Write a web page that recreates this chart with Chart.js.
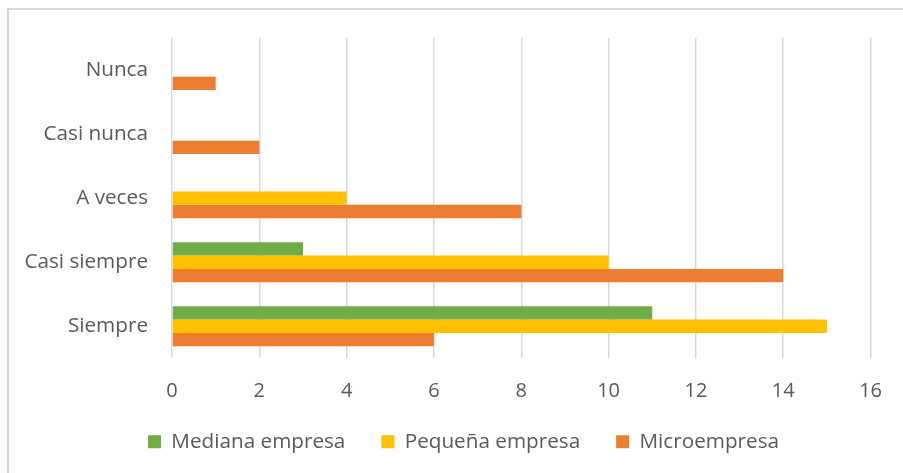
<!DOCTYPE html>
<html>
<head>
<meta charset="utf-8">
<script src="https://cdn.jsdelivr.net/npm/chart.js@4/dist/chart.umd.min.js"></script>
<style>
    html, body { margin: 0; padding: 0; background: #fff; }
    #frame { position: absolute; left: 7px; top: 8px; width: 1000px; height: 600px; border-left: 2px solid #d9d9d9; border-top: 2px solid #d9d9d9; }
    #wrap { position: absolute; left: 0; top: 0; width: 903px; height: 473px; }
</style>
</head>
<body>
<div id="frame"></div>
<div id="wrap"><canvas id="chart" width="903" height="473"></canvas></div>
<script>
const categories = ['Nunca', 'Casi nunca', 'A veces', 'Casi siempre', 'Siempre'];
const medianaValues = [0, 0, 0, 3, 11];
const pequenaValues = [0, 0, 4, 10, 15];
const microValues = [1, 2, 8, 14, 6];
const seriesNames = ['Mediana empresa', 'Pequeña empresa', 'Microempresa'];
const xTicks = [0, 2, 4, 6, 8, 10, 12, 14, 16];

const textColor = '#595959';
const fontFamily = '"Open Sans", sans-serif';

// Nudge the legend a little right and up, like the original
const legendNudge = {
    id: 'legendNudge',
    afterLayout(chart) {
        const lg = chart.legend;
        if (!lg) return;
        lg.left += 18;
        lg.right += 18;
        lg.top -= 3;
        lg.bottom -= 3;
    }
};

const ctx = document.getElementById('chart').getContext('2d');
new Chart(ctx, {
    type: 'bar',
    data: {
        labels: categories,
        datasets: [
            { label: seriesNames[0], data: medianaValues, backgroundColor: '#70ad47' },
            { label: seriesNames[1], data: pequenaValues, backgroundColor: '#ffc000' },
            { label: seriesNames[2], data: microValues, backgroundColor: '#ed7d31' }
        ]
    },
    options: {
        indexAxis: 'y',
        responsive: false,
        animation: false,
        categoryPercentage: 0.625,
        barPercentage: 1,
        layout: { padding: { left: 8, right: 20, top: 38, bottom: 8 } },
        scales: {
            x: {
                min: xTicks[0],
                max: xTicks[xTicks.length - 1],
                afterBuildTicks: (scale) => { scale.ticks = xTicks.map(v => ({ value: v })); },
                afterFit: (scale) => { scale.height = 40; },
                grid: { color: '#d9d9d9', lineWidth: 1.5, drawTicks: false },
                border: { display: false },
                ticks: { color: textColor, font: { family: fontFamily, size: 20 }, padding: 21 }
            },
            y: {
                grid: { display: false, drawTicks: false },
                border: { display: false },
                afterFit: (scale) => { scale.width = 164; },
                ticks: { color: textColor, font: { family: fontFamily, size: 20.7 }, padding: 24 }
            }
        },
        plugins: {
            tooltip: { enabled: false },
            legend: {
                position: 'bottom',
                labels: {
                    color: textColor,
                    font: { family: fontFamily, size: 20.7 },
                    boxWidth: 13,
                    boxHeight: 13,
                    padding: 36
                }
            }
        }
    },
    plugins: [legendNudge]
});
</script>
</body>
</html>
